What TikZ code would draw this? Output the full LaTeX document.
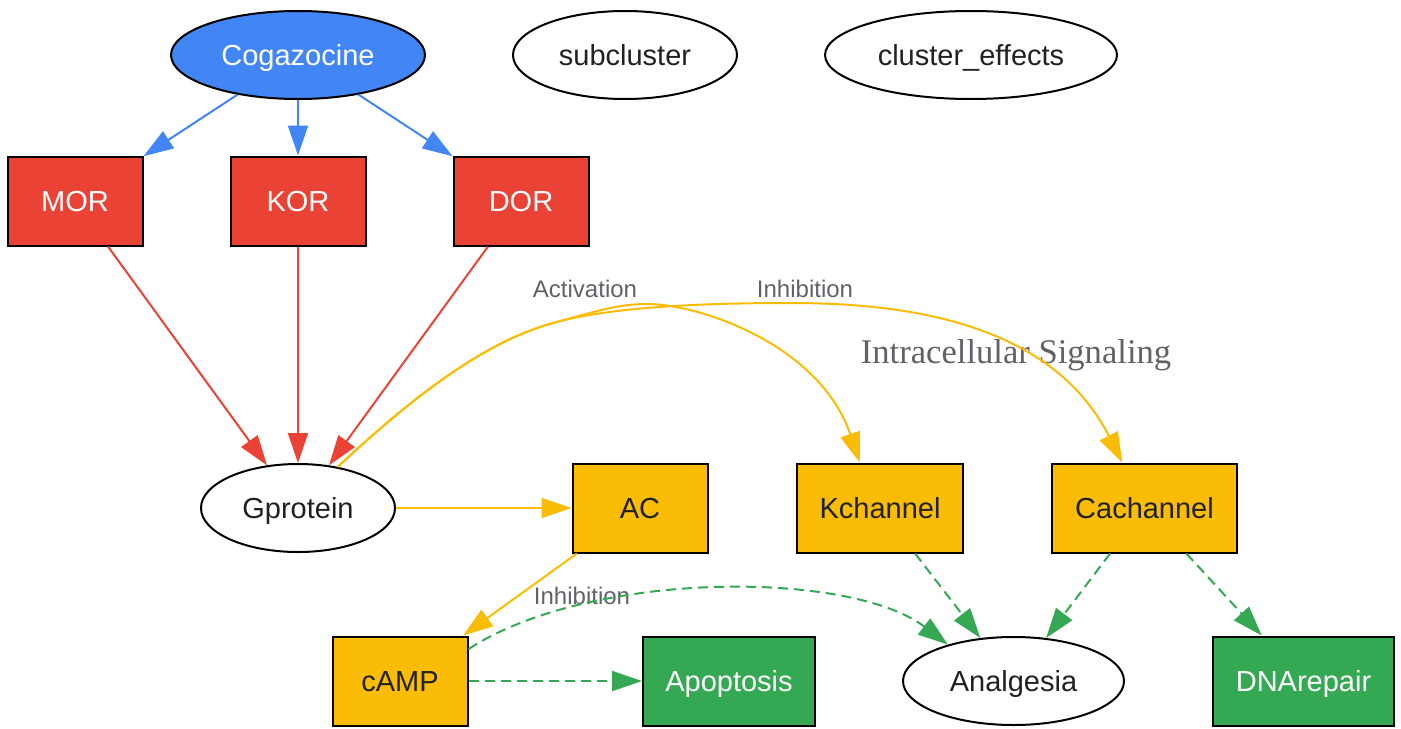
\documentclass[tikz,border=0pt]{standalone}
\usepackage{fontspec}
\setmainfont{Liberation Sans}
\newfontfamily\serifttl{Liberation Serif}
\usetikzlibrary{arrows.meta,shapes.geometric}
\definecolor{gblue}{HTML}{4285F4}
\definecolor{gred}{HTML}{EA4335}
\definecolor{gyellow}{HTML}{FBBC05}
\definecolor{ggreen}{HTML}{34A853}
\definecolor{txtdark}{HTML}{202124}
\definecolor{lblgray}{HTML}{5F6368}

\begin{document}
\begin{tikzpicture}[x=0.5pt,y=-0.5pt,
	>={Triangle[length=15pt,width=10pt]},
	every node/.style={font=\fontsize{14.5}{17}\selectfont, text=txtdark},
	box/.style={rectangle, draw=black, line width=1pt, minimum height=44.5pt, inner sep=0pt, text height=13pt, text depth=2.6pt},
	oval/.style={ellipse, draw=black, line width=1pt, minimum height=44pt, inner sep=0pt, text height=13pt, text depth=2.6pt},
	edge/.style={line width=1pt},
	effect/.style={edge, ggreen, dash pattern=on 5pt off 3pt},
	lbl/.style={font=\fontsize{12}{14}\selectfont, text=lblgray}]
		\useasboundingbox (0,0) rectangle (1401,728);
		
		\node[oval, fill=gblue, text=white, minimum width=127pt] at (298,55) (Cog) {Cogazocine};
		\node[oval, minimum width=112pt] at (625,55) (sub) {subcluster};
		\node[oval, minimum width=146pt] at (971,55) (effects) {cluster\_effects};
		
		\node[box, fill=gred, text=white, minimum width=67.5pt] at (75,201) (MOR) {MOR};
		\node[box, fill=gred, text=white, minimum width=67.5pt] at (298,201) (KOR) {KOR};
		\node[box, fill=gred, text=white, minimum width=67.5pt] at (521,201) (DOR) {DOR};
		
		\node[oval, minimum width=97pt] at (298,508) (Gp) {Gprotein};
		\node[box, fill=gyellow, minimum width=67.5pt] at (640,508) (AC) {AC};
		\node[box, fill=gyellow, minimum width=83pt] at (880,508) (Kch) {Kchannel};
		\node[box, fill=gyellow, minimum width=92.5pt] at (1144.5,508) (Cach) {Cachannel};
		
		\node[box, fill=gyellow, minimum width=67.5pt] at (400,681) (cAMP) {cAMP};
		\node[box, fill=ggreen, text=white, minimum width=86pt] at (729,681) (Apop) {Apoptosis};
		\node[oval, minimum width=110.5pt] at (1013.5,681) (Analg) {Analgesia};
		\node[box, fill=ggreen, text=white, minimum width=90.5pt] at (1303.5,681) (DNA) {DNArepair};
		
		\node[font=\serifttl\fontsize{17.3}{20}\selectfont, text=lblgray] at (1016,355) (sig) {Intracellular Signaling};
		\node[lbl] at (585,289) (lact) {Activation};
		\node[lbl] at (805,289) (linh) {Inhibition};
		\node[lbl] at (582,596) (linh2) {Inhibition};
		
		\draw[->, edge, gblue] (Cog) -- (MOR);
		\draw[->, edge, gblue] (Cog) -- (KOR);
		\draw[->, edge, gblue] (Cog) -- (DOR);
		
		\draw[->, edge, gred] (MOR) -- (Gp);
		\draw[->, edge, gred] (KOR) -- (Gp);
		\draw[->, edge, gred] (DOR) -- (Gp);
		
		\draw[->, edge, gyellow] (Gp) -- (AC);
		\draw[->, edge, gyellow] (Gp.46) .. controls (405,404) and (480,343) .. (553,323)
			.. controls (600,310) and (620,304) .. (647,304)
			.. controls (700,304) and (820,345) .. (Kch.114);
		\draw[->, edge, gyellow] (Gp.46) .. controls (405,404) and (480,343) .. (553,323)
			.. controls (610,307) and (700,303) .. (790,303)
			.. controls (900,303) and (1050,320) .. (Cach.116);
		\draw[->, edge, gyellow] (AC) -- (cAMP);
		
		\draw[->, effect] (cAMP) -- (Apop);
		\draw[->, effect] (cAMP.25) .. controls (590,570) and (850,570) .. (Analg.151);
		\draw[->, effect] (Kch) -- (Analg);
		\draw[->, effect] (Cach) -- (Analg);
		\draw[->, effect] (Cach) -- (DNA);
	\end{tikzpicture}
\end{document}
